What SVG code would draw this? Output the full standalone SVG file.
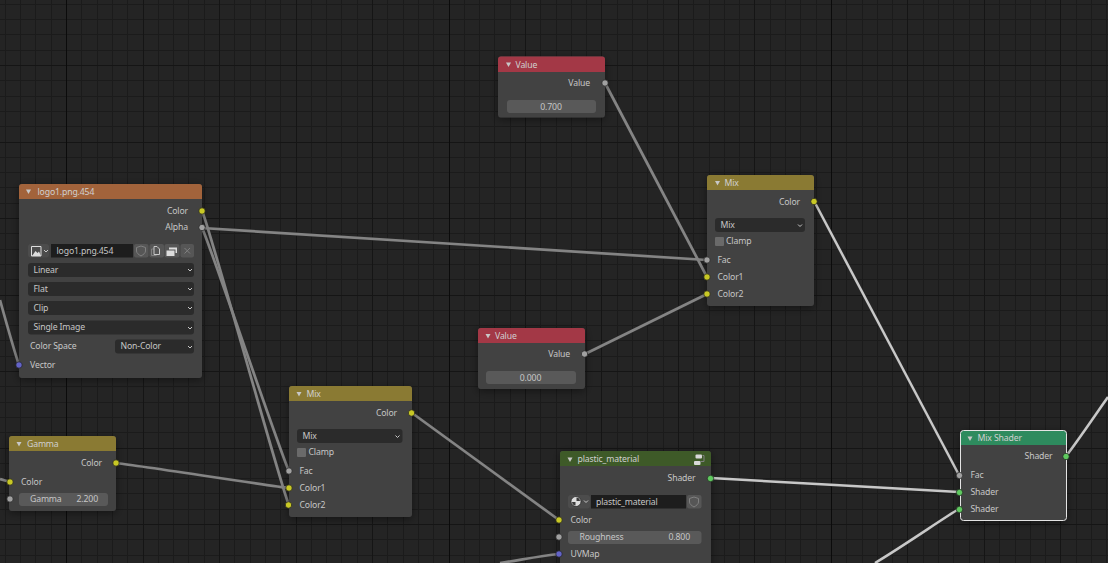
<svg xmlns="http://www.w3.org/2000/svg" width="1108" height="563" viewBox="0 0 1108 563">
<style>
text{font-family:"Noto Sans","Liberation Sans",sans-serif;font-size:8.7px;letter-spacing:-.15px;fill:#c6c6c6}
.e{text-anchor:end}.m{text-anchor:middle}
.h{fill:#d0d0d0}
.body{fill:#424242;filter:url(#sh)}
.dd{fill:#2b2b2b}.num{fill:#595959}.tf{fill:#1d1d1d}.btn{fill:#565656}.chk{fill:#6a6a6a}
.y{fill:#c8c825}.g{fill:#a1a1a1}.b{fill:#6363c7}.s{fill:#5fc95f}
circle{stroke:#1e1e1e;stroke-width:.7}
.chev{fill:none;stroke:#c8c8c8;stroke-width:1}
.tri{fill:#c8c8c8}
.ic{fill:none;stroke:#c8c8c8;stroke-width:1}
.icd{fill:none;stroke:#808080;stroke-width:1}
.minor{stroke:#1b1b1b;stroke-width:1;fill:none;shape-rendering:crispEdges}
.major{stroke:#151515;stroke-width:1;fill:none;shape-rendering:crispEdges}
.super{stroke:#0b0b0b;stroke-width:1;fill:none;shape-rendering:crispEdges}
.lu{fill:none;stroke:#2a2a2a;stroke-width:3.8;stroke-opacity:.7}
.l{fill:none;stroke:#848484;stroke-width:2.7}
.ls{fill:none;stroke:#c8c8c8;stroke-width:2.5}
</style>
<defs>
<filter id="sh" x="-20%" y="-20%" width="140%" height="140%"><feDropShadow dx="0" dy="2" stdDeviation="4" flood-color="#000" flood-opacity=".45"/></filter>
</defs>
<rect width="1108" height="563" fill="#242424"/>
<g id="grid">
<path class="minor" d="M5.3 0V563M20.6 0V563M35.9 0V563M51.2 0V563M81.8 0V563M97.1 0V563M112.4 0V563M127.7 0V563M158.3 0V563M173.6 0V563M188.9 0V563M204.2 0V563M234.8 0V563M250.1 0V563M265.4 0V563M280.7 0V563M311.3 0V563M326.6 0V563M341.9 0V563M357.2 0V563M387.8 0V563M403.1 0V563M418.4 0V563M433.7 0V563M464.2 0V563M479.5 0V563M494.8 0V563M510.1 0V563M540.7 0V563M556 0V563M571.3 0V563M586.6 0V563M617.2 0V563M632.5 0V563M647.8 0V563M663.1 0V563M693.7 0V563M709 0V563M724.3 0V563M739.6 0V563M770.2 0V563M785.5 0V563M800.8 0V563M816.1 0V563M846.7 0V563M862 0V563M877.3 0V563M892.6 0V563M923.2 0V563M938.5 0V563M953.8 0V563M969.1 0V563M999.7 0V563M1015 0V563M1030.3 0V563M1045.6 0V563M1076.2 0V563M1091.5 0V563M1106.8 0V563M0 4.3H1108M0 19.6H1108M0 34.9H1108M0 50.2H1108M0 80.8H1108M0 96.1H1108M0 111.4H1108M0 126.7H1108M0 157.3H1108M0 172.6H1108M0 187.9H1108M0 203.2H1108M0 233.8H1108M0 249.1H1108M0 264.4H1108M0 279.7H1108M0 310.3H1108M0 325.6H1108M0 340.9H1108M0 356.2H1108M0 386.8H1108M0 402.1H1108M0 417.4H1108M0 432.7H1108M0 463.3H1108M0 478.6H1108M0 493.9H1108M0 509.2H1108M0 539.8H1108M0 555.1H1108"/>
<path class="major" d="M143 0V563M219.5 0V563M296 0V563M372.5 0V563M525.4 0V563M601.9 0V563M678.4 0V563M754.9 0V563M907.9 0V563M984.4 0V563M1060.9 0V563M0 65.5H1108M0 142H1108M0 218.5H1108M0 295H1108M0 371.5H1108M0 448H1108M0 524.5H1108"/>
<path class="super" d="M66.5 0V563M449 0V563M831.4 0V563"/>
</g>
<g id="connectors">
<g class="lu">
<path d="M605 83C612 95 700 265 707 277"/><path d="M202 228C220 229 690 259 707 260"/><path d="M202 228C208 238 283 461 289 471"/><path d="M202 211C208 221 283 495 289 505"/><path d="M585 354C600 347 692 301 707 294"/><path d="M116 463C135 465 270 486 289 488"/><path d="M412 413C425 422 546 511 559 520"/><path d="M814 201C822 216 951 460 959 475"/><path d="M711 478C730 479 940 491 959 492"/><path d="M959 509C945 517 905 545 875 563"/><path d="M1066 456C1075 445 1100 408 1108 397"/><path d="M500 563C520 560 540 556 559 554"/><path d="M0 479C3 480 7 481 10 482"/><path d="M0 300C5 318 14 350 19 365"/>
</g>
<g class="l">
<path d="M605 83C612 95 700 265 707 277"/><path d="M202 228C220 229 690 259 707 260"/><path d="M202 228C208 238 283 461 289 471"/><path d="M202 211C208 221 283 495 289 505"/><path d="M585 354C600 347 692 301 707 294"/><path d="M116 463C135 465 270 486 289 488"/><path d="M412 413C425 422 546 511 559 520"/><path d="M500 563C520 560 540 556 559 554"/><path d="M0 479C3 480 7 481 10 482"/><path d="M0 300C5 318 14 350 19 365"/>
</g>
<g class="ls">
<path d="M814 201C822 216 951 460 959 475"/><path d="M711 478C730 479 940 491 959 492"/><path d="M959 509C945 517 905 545 875 563"/><path d="M1066 456C1075 445 1100 408 1108 397"/>
</g>
</g>

<g id="node-image">
<rect class="body" x="19" y="184" width="183" height="194" rx="3"/>
<path d="M19 199V187a3 3 0 0 1 3-3H199a3 3 0 0 1 3 3V199Z" fill="#a2633b"/>
<path class="tri" d="M26 189.500h5l-2.500 4.500Z"/>
<text class="h" x="37.500" y="195">logo1.png.454</text>
<text class="e" x="188" y="214">Color</text>
<text class="e" x="188" y="230">Alpha</text>
<rect class="btn" x="28" y="244" width="21" height="13.500" rx="3" fill-opacity=".55"/>
<rect class="tf" x="51" y="244" width="82" height="13.500"/>
<path d="M31.500 246.500h9.500v9.500h-9.500Z" fill="none" stroke="#ddd"/><path d="M32 256l3.500-5 2 2 1.500-1.500 2 4.500Z" fill="#ddd"/>
<path class="chev" d="M44 250l2 2 2-2"/>
<text x="56.500" y="253.500">logo1.png.454</text>
<rect class="btn" x="134" y="244" width="14.500" height="13.500" rx="2"/><rect class="btn" x="149.500" y="244" width="14.500" height="13.500" rx="2"/><rect class="btn" x="164.500" y="244" width="15" height="13.500" rx="2"/><rect class="btn" x="180.500" y="244" width="13.500" height="13.500" rx="2"/>
<path class="icd" d="M141 246l4.500 1.500v3.500c0 2-2 3.500-4.500 5-2.500-1.500-4.500-3-4.500-5v-3.500Z"/>
<path class="icd" d="M154 249h-2.500v6.500h5"/><path class="ic" d="M154 246.500h3l2.500 2.500v5.500h-5.500Z"/>
<path d="M166.500 250.500h8v5.500h-8Z" fill="#dcdcdc"/><path d="M169 247.500h8v5.500h-1.500v-3.500h-6.500Z" fill="#dcdcdc"/>
<path class="icd" d="M184.500 248l5.500 5.500M190 248l-5.500 5.500"/>
<rect class="dd" x="28" y="263" width="166" height="14" rx="3"/><text x="33.500" y="272.800">Linear</text><path class="chev" d="M188 269l2 2 2-2"/>
<rect class="dd" x="28" y="282" width="166" height="14" rx="3"/><text x="33.500" y="291.800">Flat</text><path class="chev" d="M188 288l2 2 2-2"/>
<rect class="dd" x="28" y="301" width="166" height="14" rx="3"/><text x="33.500" y="310.800">Clip</text><path class="chev" d="M188 307l2 2 2-2"/>
<rect class="dd" x="28" y="320.500" width="166" height="14" rx="3"/><text x="33.500" y="330.300">Single Image</text><path class="chev" d="M188 327l2 2 2-2"/>
<text x="30" y="349">Color Space</text>
<rect class="dd" x="115" y="339.500" width="79" height="14" rx="3"/><text x="120.500" y="349">Non-Color</text><path class="chev" d="M188 346l2 2 2-2"/>
<text x="30" y="368">Vector</text>
<circle class="y" cx="202" cy="211" r="3.200"/><circle class="g" cx="202" cy="227.500" r="3.200"/><circle class="b" cx="19" cy="365" r="3.200"/>
</g>

<g id="node-gamma">
<rect class="body" x="9" y="436" width="107" height="75" rx="3"/>
<path d="M9 451V439a3 3 0 0 1 3-3H113a3 3 0 0 1 3 3V451Z" fill="#8a7a33"/>
<path class="tri" d="M16.500 442h5l-2.500 4.500Z"/>
<text class="h" x="27" y="447">Gamma</text>
<text class="e" x="102" y="466">Color</text>
<text x="21" y="485">Color</text>
<rect class="num" x="19" y="493" width="89" height="13" rx="3"/>
<text x="30" y="502">Gamma</text><text class="e" x="98" y="502">2.200</text>
<circle class="y" cx="116" cy="463" r="3.200"/><circle class="y" cx="10" cy="482" r="3.200"/><circle class="g" cx="10" cy="499" r="3.200"/>
</g>

<g id="node-mix-1">
<rect class="body" x="289" y="386" width="123" height="131" rx="3"/>
<path d="M289 401V389a3 3 0 0 1 3-3H409a3 3 0 0 1 3 3V401Z" fill="#8a7a33"/>
<path class="tri" d="M296.500 392h5l-2.500 4.500Z"/>
<text class="h" x="306.500" y="396.500">Mix</text>
<text class="e" x="397" y="416">Color</text>
<rect class="dd" x="297" y="429" width="105.500" height="14" rx="3"/><text x="302.500" y="439">Mix</text><path class="chev" d="M395.500 435.500l2 2 2-2"/>
<rect class="chk" x="297" y="448" width="9" height="9" rx="1"/><text x="308.500" y="455">Clamp</text>
<text x="299.500" y="474">Fac</text><text x="299.500" y="491">Color1</text><text x="299.500" y="508">Color2</text>
<circle class="y" cx="411.500" cy="413" r="3.200"/><circle class="g" cx="289" cy="471" r="3.200"/><circle class="y" cx="289" cy="488" r="3.200"/><circle class="y" cx="288.500" cy="505" r="3.200"/>
</g>

<g id="node-value-1">
<rect class="body" x="498" y="56.500" width="107" height="61" rx="3"/>
<path d="M498 72V59.500a3 3 0 0 1 3-3H602a3 3 0 0 1 3 3V72Z" fill="#a33846"/>
<path class="tri" d="M506 62.500h5l-2.500 4.500Z"/>
<text class="h" x="515.500" y="67.500">Value</text>
<text class="e" x="590" y="86">Value</text>
<rect class="num" x="507" y="100" width="89" height="13" rx="3"/><text class="m" x="551" y="109.500">0.700</text>
<circle class="g" cx="605" cy="83" r="3.200"/>
</g>

<g id="node-value-2">
<rect class="body" x="478" y="328" width="107" height="61" rx="3"/>
<path d="M478 343V331a3 3 0 0 1 3-3H582a3 3 0 0 1 3 3V343Z" fill="#a33846"/>
<path class="tri" d="M485.500 334h5l-2.500 4.500Z"/>
<text class="h" x="495" y="338.500">Value</text>
<text class="e" x="570" y="357">Value</text>
<rect class="num" x="486" y="371" width="90" height="13" rx="3"/><text class="m" x="530.500" y="380.500">0.000</text>
<circle class="g" cx="584.500" cy="354" r="3.200"/>
</g>

<g id="node-mix-2">
<rect class="body" x="707" y="175" width="107" height="131" rx="3"/>
<path d="M707 190V178a3 3 0 0 1 3-3H811a3 3 0 0 1 3 3V190Z" fill="#8a7a33"/>
<path class="tri" d="M715 181h5l-2.500 4.500Z"/>
<text class="h" x="724.500" y="185.500">Mix</text>
<text class="e" x="800" y="204.500">Color</text>
<rect class="dd" x="715" y="218" width="90" height="14" rx="3"/><text x="720.500" y="227.800">Mix</text><path class="chev" d="M798 224.500l2 2 2-2"/>
<rect class="chk" x="715" y="237" width="9" height="9" rx="1"/><text x="726" y="244">Clamp</text>
<text x="717.500" y="263">Fac</text><text x="717.500" y="280">Color1</text><text x="717.500" y="297">Color2</text>
<circle class="y" cx="814" cy="201.500" r="3.200"/><circle class="g" cx="707" cy="260" r="3.200"/><circle class="y" cx="707" cy="277" r="3.200"/><circle class="y" cx="707" cy="294" r="3.200"/>
</g>

<g id="node-plastic-material">
<rect class="body" x="560" y="451" width="151" height="125" rx="3"/>
<path d="M560 466V454a3 3 0 0 1 3-3H708a3 3 0 0 1 3 3V466Z" fill="#3e5a28"/>
<path class="tri" d="M567.500 457.500h5l-2.500 4.500Z"/>
<text class="h" x="577.500" y="462">plastic_material</text>
<rect x="695.500" y="454.500" width="6.500" height="4" rx="1" fill="#d8d8d8"/><rect x="694" y="461" width="6.500" height="4" rx="1" fill="#d8d8d8"/><path class="icd" d="M702.500 455.500h1.500v6h-3.500" stroke="#b0b0b0"/>
<text class="e" x="695.500" y="481">Shader</text>
<rect class="btn" x="568" y="495" width="22" height="13.500" rx="3" fill-opacity=".55"/>
<rect class="tf" x="591" y="495" width="95" height="13.500"/>
<rect class="btn" x="687" y="495" width="14.500" height="13.500" rx="2"/>
<circle cx="576" cy="501.500" r="5" fill="#dcdcdc" stroke="none"/><path d="M576.500 497.500v3.500h3.500a4 4 0 0 0-3.500-3.500ZM575.500 505.500v-3.500h-3.500a4 4 0 0 0 3.500 3.500Z" fill="#3a3a3a"/>
<path class="chev" d="M584 500.500l2 2 2-2"/>
<text x="596" y="504.500">plastic_material</text>
<path class="icd" d="M694 497l4.500 1.500v3.500c0 2-2 3.500-4.500 5-2.500-1.500-4.500-3-4.500-5v-3.500Z"/>
<text x="570.500" y="523">Color</text>
<rect class="num" x="568" y="531" width="133.500" height="13" rx="3"/>
<text x="579.500" y="540">Roughness</text><text class="e" x="690" y="540">0.800</text>
<text x="570.500" y="557">UVMap</text>
<circle class="s" cx="710.500" cy="478.500" r="3.200"/><circle class="y" cx="559" cy="520" r="3.200"/><circle class="g" cx="559" cy="537" r="3.200"/><circle class="b" cx="559" cy="554" r="3.200"/>
</g>

<g id="node-mix-shader">
<rect class="body" x="960.500" y="430.500" width="106" height="90" rx="3"/>
<path d="M960.500 445V433.500a3 3 0 0 1 3-3H1063.500a3 3 0 0 1 3 3V445Z" fill="#2e8b5e"/>
<rect x="960.500" y="430.500" width="106" height="90" rx="3" fill="none" stroke="#e4e4e4" stroke-width="1"/>
<path class="tri" d="M967.500 436.500h5l-2.500 4.500Z"/>
<text class="h" x="977.500" y="440.500">Mix Shader</text>
<text class="e" x="1052.500" y="459">Shader</text>
<text x="970.500" y="478">Fac</text><text x="970.500" y="495">Shader</text><text x="970.500" y="512">Shader</text>
<circle class="s" cx="1066" cy="456.500" r="3.200"/><circle class="g" cx="959.500" cy="475.500" r="3.200"/><circle class="s" cx="959.500" cy="492.500" r="3.200"/><circle class="s" cx="959.500" cy="509.500" r="3.200"/>
</g>
</svg>
